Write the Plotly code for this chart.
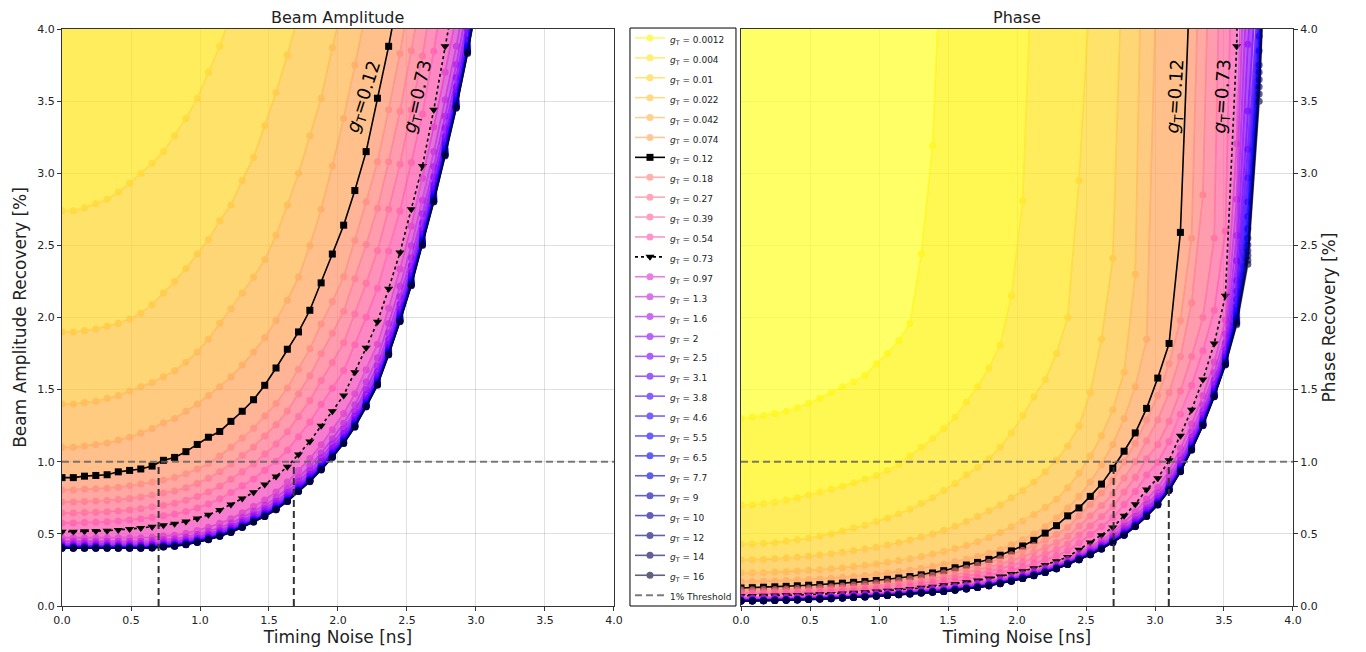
import plotly.graph_objects as go

# ---------------- data ----------------
TIMING_NOISE_NS = [0.000, 0.082, 0.163, 0.245, 0.327, 0.408, 0.490, 0.571, 0.653, 0.735,
                   0.816, 0.898, 0.980, 1.061, 1.143, 1.224, 1.306, 1.388, 1.469, 1.551,
                   1.633, 1.714, 1.796, 1.878, 1.959, 2.041, 2.122, 2.204, 2.286, 2.367,
                   2.449, 2.531, 2.612, 2.694, 2.776, 2.857, 2.939, 3.020, 3.102, 3.184,
                   3.265, 3.347, 3.429, 3.510, 3.592, 3.673, 3.755, 3.837, 3.918, 4.000]

G_T_LABELS = ["0.0012", "0.004", "0.01", "0.022", "0.042", "0.074", "0.12", "0.18", "0.27",
              "0.39", "0.54", "0.73", "0.97", "1.3", "1.6", "2", "2.5", "3.1", "3.8", "4.6",
              "5.5", "6.5", "7.7", "9", "10", "12", "14", "16"]

# Beam amplitude recovery [%] (left panel); curves above the plotted range are empty
AMP_0p0012 = []
AMP_0p004 = []
AMP_0p01 = [2.74, 2.74, 2.76, 2.79, 2.82, 2.87, 2.93, 3.00, 3.07, 3.15, 3.26, 3.38, 3.52, 3.70, 3.88, 4.10]
AMP_0p022 = [1.90, 1.90, 1.91, 1.92, 1.94, 1.96, 1.99, 2.03, 2.09, 2.17, 2.25, 2.34, 2.44, 2.54, 2.67, 2.78,
             2.95, 3.11, 3.33, 3.56, 3.82, 4.10]
AMP_0p042 = [1.40, 1.40, 1.41, 1.42, 1.44, 1.46, 1.49, 1.52, 1.55, 1.59, 1.63, 1.69, 1.76, 1.85, 1.96, 2.06,
             2.17, 2.28, 2.40, 2.57, 2.78, 3.00, 3.26, 3.52, 3.87, 4.20]
AMP_0p074 = [1.10, 1.10, 1.11, 1.12, 1.13, 1.15, 1.17, 1.20, 1.23, 1.27, 1.30, 1.35, 1.40, 1.46, 1.52, 1.59,
             1.67, 1.76, 1.86, 1.98, 2.12, 2.28, 2.50, 2.75, 3.05, 3.38, 3.75, 4.12]
AMP_0p12 = [0.89, 0.89, 0.90, 0.905, 0.91, 0.93, 0.94, 0.95, 0.97, 1.01, 1.03, 1.07, 1.12, 1.17, 1.21, 1.28,
            1.35, 1.43, 1.53, 1.65, 1.78, 1.90, 2.05, 2.24, 2.44, 2.64, 2.88, 3.15, 3.52, 3.88, 4.30]
AMP_0p18 = [0.805, 0.805, 0.81, 0.813, 0.816, 0.824, 0.834, 0.845, 0.86, 0.874, 0.891, 0.917, 0.949, 0.988,
            1.04, 1.10, 1.165, 1.232, 1.317, 1.404, 1.511, 1.642, 1.783, 1.955, 2.111, 2.283, 2.534, 2.80,
            3.08, 3.44, 3.83, 4.30]
AMP_0p27 = [0.721, 0.721, 0.725, 0.728, 0.731, 0.738, 0.746, 0.756, 0.77, 0.783, 0.798, 0.82, 0.85, 0.885,
            0.931, 0.984, 1.043, 1.103, 1.179, 1.257, 1.352, 1.47, 1.596, 1.75, 1.89, 2.044, 2.268, 2.506,
            2.758, 3.08, 3.43, 3.85, 4.27]
AMP_0p39 = [0.644, 0.644, 0.648, 0.65, 0.653, 0.659, 0.666, 0.675, 0.688, 0.699, 0.713, 0.733, 0.759, 0.79,
            0.831, 0.879, 0.931, 0.985, 1.053, 1.123, 1.208, 1.313, 1.425, 1.563, 1.688, 1.825, 2.025, 2.238,
            2.463, 2.75, 3.063, 3.438, 3.813, 4.30]
AMP_0p54 = [0.576, 0.576, 0.579, 0.581, 0.584, 0.589, 0.596, 0.604, 0.615, 0.625, 0.637, 0.655, 0.679, 0.707,
            0.743, 0.786, 0.833, 0.881, 0.941, 1.004, 1.08, 1.174, 1.275, 1.398, 1.509, 1.632, 1.811, 2.001,
            2.202, 2.46, 2.739, 3.075, 3.41, 3.846, 4.34]
AMP_0p73 = [0.515, 0.515, 0.518, 0.52, 0.522, 0.527, 0.533, 0.54, 0.55, 0.559, 0.57, 0.586, 0.607, 0.632,
            0.665, 0.703, 0.745, 0.788, 0.842, 0.898, 0.966, 1.05, 1.14, 1.25, 1.35, 1.46, 1.62, 1.79, 1.97,
            2.20, 2.45, 2.75, 3.05, 3.44, 3.88, 4.30]
AMP_0p97 = [0.474, 0.474, 0.474, 0.474, 0.474, 0.474, 0.474, 0.474, 0.477, 0.485, 0.491, 0.504, 0.523, 0.546,
            0.573, 0.605, 0.646, 0.69, 0.735, 0.791, 0.859, 0.94, 1.022, 1.118, 1.222, 1.335, 1.471, 1.637,
            1.815, 2.064, 2.336, 2.633, 2.965, 3.321, 3.70, 4.092]
AMP_1p3 = [0.45, 0.45, 0.45, 0.45, 0.45, 0.45, 0.45, 0.45, 0.452, 0.46, 0.466, 0.478, 0.496, 0.518, 0.543,
           0.574, 0.613, 0.655, 0.698, 0.75, 0.815, 0.892, 0.97, 1.061, 1.159, 1.267, 1.395, 1.553, 1.721,
           1.958, 2.216, 2.498, 2.813, 3.15, 3.51, 3.881, 4.309]
AMP_1p6 = [0.435, 0.435, 0.435, 0.435, 0.435, 0.435, 0.435, 0.435, 0.437, 0.445, 0.45, 0.462, 0.48, 0.50,
           0.525, 0.555, 0.593, 0.633, 0.675, 0.726, 0.788, 0.863, 0.938, 1.026, 1.121, 1.225, 1.349, 1.501,
           1.665, 1.893, 2.143, 2.415, 2.72, 3.046, 3.395, 3.754, 4.167]
AMP_2 = [0.425, 0.425, 0.425, 0.425, 0.425, 0.425, 0.425, 0.425, 0.427, 0.434, 0.44, 0.451, 0.468, 0.489,
         0.513, 0.542, 0.579, 0.618, 0.658, 0.708, 0.769, 0.842, 0.915, 1.001, 1.094, 1.196, 1.317, 1.466,
         1.625, 1.848, 2.092, 2.358, 2.655, 2.974, 3.313, 3.664, 4.067]
AMP_2p5 = [0.417, 0.417, 0.417, 0.417, 0.417, 0.417, 0.417, 0.417, 0.419, 0.427, 0.432, 0.443, 0.46, 0.48,
           0.504, 0.532, 0.568, 0.607, 0.647, 0.696, 0.755, 0.827, 0.899, 0.984, 1.074, 1.174, 1.293, 1.439,
           1.596, 1.815, 2.055, 2.315, 2.608, 2.92, 3.254, 3.598, 3.995, 4.433]
AMP_3p1 = [0.413, 0.413, 0.413, 0.413, 0.413, 0.413, 0.413, 0.413, 0.415, 0.422, 0.427, 0.439, 0.455, 0.475,
           0.498, 0.526, 0.562, 0.601, 0.64, 0.688, 0.747, 0.818, 0.89, 0.973, 1.063, 1.162, 1.28, 1.424,
           1.579, 1.796, 2.033, 2.291, 2.58, 2.89, 3.22, 3.56, 3.953, 4.386]
AMP_3p8 = [0.41, 0.41, 0.41, 0.41, 0.41, 0.41, 0.41, 0.41, 0.412, 0.419, 0.424, 0.435, 0.452, 0.471, 0.495,
           0.522, 0.558, 0.596, 0.635, 0.683, 0.741, 0.812, 0.883, 0.966, 1.055, 1.153, 1.27, 1.413, 1.567,
           1.782, 2.017, 2.273, 2.56, 2.867, 3.195, 3.533, 3.922, 4.352]
AMP_4p6 = [0.407, 0.407, 0.407, 0.407, 0.407, 0.407, 0.407, 0.407, 0.409, 0.416, 0.421, 0.432, 0.448, 0.468,
           0.491, 0.519, 0.554, 0.592, 0.631, 0.678, 0.736, 0.806, 0.877, 0.959, 1.048, 1.145, 1.261, 1.403,
           1.556, 1.77, 2.003, 2.258, 2.543, 2.848, 3.173, 3.509, 3.895, 4.322]
AMP_5p5 = [0.405, 0.405, 0.405, 0.405, 0.405, 0.405, 0.405, 0.405, 0.407, 0.414, 0.419, 0.431, 0.447, 0.466,
           0.489, 0.517, 0.552, 0.59, 0.628, 0.676, 0.733, 0.803, 0.873, 0.955, 1.043, 1.141, 1.256, 1.398,
           1.55, 1.763, 1.996, 2.249, 2.533, 2.836, 3.161, 3.495, 3.88, 4.305]
AMP_6p5 = [0.404, 0.404, 0.404, 0.404, 0.404, 0.404, 0.404, 0.404, 0.406, 0.413, 0.418, 0.429, 0.445, 0.465,
           0.488, 0.515, 0.55, 0.588, 0.626, 0.674, 0.731, 0.801, 0.871, 0.952, 1.04, 1.137, 1.252, 1.394,
           1.545, 1.757, 1.99, 2.242, 2.525, 2.828, 3.151, 3.485, 3.868, 4.293]
AMP_7p7 = [0.403, 0.403, 0.403, 0.403, 0.403, 0.403, 0.403, 0.403, 0.405, 0.412, 0.417, 0.428, 0.444, 0.463,
           0.486, 0.514, 0.549, 0.586, 0.624, 0.672, 0.729, 0.799, 0.868, 0.95, 1.037, 1.134, 1.249, 1.39,
           1.541, 1.752, 1.984, 2.236, 2.518, 2.82, 3.142, 3.474, 3.857, 4.28]
AMP_9 = [0.402, 0.402, 0.402, 0.402, 0.402, 0.402, 0.402, 0.402, 0.404, 0.411, 0.416, 0.427, 0.443, 0.462,
         0.485, 0.513, 0.548, 0.585, 0.623, 0.67, 0.728, 0.797, 0.866, 0.948, 1.035, 1.132, 1.246, 1.387,
         1.538, 1.749, 1.98, 2.231, 2.513, 2.814, 3.136, 3.467, 3.849, 4.271]
AMP_10 = [0.402, 0.402, 0.402, 0.402, 0.402, 0.402, 0.402, 0.402, 0.404, 0.411, 0.416, 0.427, 0.443, 0.462,
          0.485, 0.512, 0.547, 0.584, 0.622, 0.67, 0.727, 0.796, 0.865, 0.947, 1.034, 1.13, 1.245, 1.386,
          1.536, 1.747, 1.978, 2.229, 2.51, 2.811, 3.132, 3.464, 3.845, 4.267]
AMP_12 = [0.401, 0.401, 0.401, 0.401, 0.401, 0.401, 0.401, 0.401, 0.403, 0.41, 0.415, 0.426, 0.442, 0.461,
          0.484, 0.511, 0.546, 0.583, 0.621, 0.668, 0.725, 0.795, 0.864, 0.945, 1.032, 1.128, 1.242, 1.383,
          1.533, 1.743, 1.974, 2.224, 2.505, 2.806, 3.126, 3.457, 3.838, 4.259]
AMP_14 = [0.40, 0.40, 0.40, 0.40, 0.40, 0.40, 0.40, 0.40, 0.402, 0.409, 0.414, 0.425, 0.441, 0.46, 0.483,
          0.51, 0.545, 0.582, 0.62, 0.668, 0.725, 0.794, 0.863, 0.944, 1.031, 1.127, 1.241, 1.381, 1.532,
          1.742, 1.972, 2.222, 2.503, 2.803, 3.123, 3.454, 3.834, 4.254]
AMP_16 = [0.40, 0.40, 0.40, 0.40, 0.40, 0.40, 0.40, 0.40, 0.402, 0.409, 0.414, 0.425, 0.441, 0.46, 0.483,
          0.51, 0.545, 0.582, 0.62, 0.667, 0.724, 0.793, 0.862, 0.943, 1.03, 1.126, 1.24, 1.38, 1.53, 1.74,
          1.97, 2.22, 2.5, 2.8, 3.12, 3.45, 3.83, 4.25]

# Phase recovery [%] (right panel)
PH_0p0012 = [1.30, 1.31, 1.32, 1.335, 1.35, 1.375, 1.405, 1.44, 1.48, 1.52, 1.555, 1.60, 1.68, 1.75, 1.84,
             1.96, 2.44, 3.19, 5.0]
PH_0p004 = [0.70, 0.70, 0.71, 0.72, 0.735, 0.75, 0.77, 0.79, 0.81, 0.83, 0.855, 0.88, 0.905, 0.94, 0.98,
            1.04, 1.10, 1.16, 1.23, 1.31, 1.415, 1.52, 1.65, 1.81, 2.15, 2.81, 4.8]
PH_0p01 = [0.43, 0.43, 0.435, 0.44, 0.45, 0.46, 0.47, 0.485, 0.50, 0.52, 0.54, 0.56, 0.585, 0.61, 0.64,
           0.67, 0.71, 0.75, 0.80, 0.85, 0.91, 0.96, 1.02, 1.10, 1.20, 1.32, 1.45, 1.57, 1.75, 2.0, 2.95, 4.3]
PH_0p022 = [0.32, 0.32, 0.323, 0.327, 0.332, 0.338, 0.345, 0.353, 0.362, 0.372, 0.383, 0.395, 0.408, 0.423,
            0.44, 0.458, 0.478, 0.50, 0.525, 0.553, 0.585, 0.62, 0.66, 0.70, 0.75, 0.80, 0.86, 0.93, 1.01,
            1.11, 1.25, 1.48, 1.85, 2.41, 4.9]
PH_0p042 = [0.23, 0.23, 0.232, 0.235, 0.238, 0.242, 0.247, 0.252, 0.258, 0.265, 0.273, 0.282, 0.292, 0.303,
            0.315, 0.328, 0.343, 0.36, 0.378, 0.398, 0.42, 0.445, 0.475, 0.51, 0.55, 0.59, 0.635, 0.685, 0.74,
            0.82, 0.92, 1.04, 1.18, 1.36, 1.62, 2.3, 6.5]
PH_0p074 = [0.17, 0.17, 0.172, 0.174, 0.177, 0.18, 0.184, 0.188, 0.193, 0.199, 0.205, 0.212, 0.22, 0.229,
            0.239, 0.25, 0.262, 0.275, 0.29, 0.306, 0.324, 0.344, 0.366, 0.39, 0.425, 0.46, 0.50, 0.55, 0.61,
            0.68, 0.76, 0.86, 0.98, 1.12, 1.30, 1.52, 1.85, 4.7]
PH_0p12 = [0.125, 0.127, 0.13, 0.133, 0.136, 0.14, 0.144, 0.148, 0.153, 0.158, 0.164, 0.17, 0.177, 0.185,
           0.194, 0.204, 0.216, 0.229, 0.245, 0.265, 0.284, 0.302, 0.323, 0.352, 0.382, 0.416, 0.455, 0.505,
           0.557, 0.625, 0.68, 0.76, 0.845, 0.955, 1.073, 1.20, 1.37, 1.58, 1.82, 2.59, 4.63]
PH_0p18 = [0.112, 0.112, 0.114, 0.115, 0.118, 0.122, 0.125, 0.13, 0.134, 0.139, 0.146, 0.152, 0.16, 0.168,
           0.178, 0.189, 0.202, 0.214, 0.229, 0.245, 0.262, 0.282, 0.304, 0.328, 0.355, 0.386, 0.419, 0.456,
           0.496, 0.544, 0.624, 0.704, 0.784, 0.872, 1.0, 1.128, 1.291, 1.46, 1.68, 1.98, 2.55, 5.5]
PH_0p27 = [0.099, 0.099, 0.101, 0.102, 0.105, 0.108, 0.111, 0.115, 0.119, 0.124, 0.129, 0.135, 0.142, 0.149,
           0.158, 0.168, 0.179, 0.19, 0.203, 0.217, 0.233, 0.25, 0.27, 0.291, 0.315, 0.342, 0.372, 0.405,
           0.44, 0.483, 0.554, 0.625, 0.696, 0.774, 0.888, 1.001, 1.146, 1.29, 1.48, 1.73, 2.1, 2.85, 6.0]
PH_0p39 = [0.089, 0.089, 0.09, 0.091, 0.094, 0.096, 0.099, 0.102, 0.106, 0.11, 0.115, 0.12, 0.127, 0.133,
           0.14, 0.149, 0.159, 0.17, 0.181, 0.194, 0.207, 0.223, 0.24, 0.259, 0.281, 0.305, 0.331, 0.361,
           0.392, 0.43, 0.493, 0.557, 0.62, 0.689, 0.791, 0.892, 1.021, 1.12, 1.28, 1.49, 1.73, 2.0, 2.55, 6.5]
PH_0p54 = [0.079, 0.079, 0.08, 0.081, 0.083, 0.086, 0.088, 0.091, 0.095, 0.098, 0.102, 0.107, 0.113, 0.118,
           0.125, 0.133, 0.142, 0.151, 0.161, 0.172, 0.185, 0.198, 0.214, 0.231, 0.25, 0.271, 0.295, 0.321,
           0.349, 0.383, 0.439, 0.495, 0.551, 0.613, 0.703, 0.793, 0.908, 0.997, 1.14, 1.33, 1.53, 1.77, 2.05,
           2.6, 6.0]
PH_0p73 = [0.07, 0.07, 0.071, 0.072, 0.074, 0.076, 0.078, 0.081, 0.084, 0.087, 0.091, 0.095, 0.10, 0.105,
           0.111, 0.118, 0.126, 0.134, 0.143, 0.153, 0.164, 0.176, 0.19, 0.205, 0.222, 0.241, 0.262, 0.285,
           0.31, 0.34, 0.39, 0.44, 0.49, 0.545, 0.625, 0.705, 0.807, 0.886, 1.01, 1.18, 1.36, 1.57, 1.82,
           2.15, 3.88, 9.0]
PH_0p97 = [0.057, 0.058, 0.059, 0.06, 0.062, 0.064, 0.066, 0.069, 0.072, 0.076, 0.08, 0.084, 0.089, 0.094,
           0.099, 0.106, 0.113, 0.121, 0.128, 0.138, 0.148, 0.159, 0.173, 0.188, 0.205, 0.223, 0.244, 0.266,
           0.292, 0.322, 0.366, 0.41, 0.457, 0.508, 0.578, 0.651, 0.742, 0.821, 0.937, 1.093, 1.262, 1.458,
           1.691, 1.982, 3.205, 6.68]
PH_1p3 = [0.050, 0.051, 0.052, 0.053, 0.055, 0.057, 0.06, 0.063, 0.066, 0.069, 0.073, 0.077, 0.082, 0.087,
          0.093, 0.099, 0.106, 0.113, 0.119, 0.129, 0.139, 0.15, 0.163, 0.178, 0.195, 0.213, 0.233, 0.256,
          0.281, 0.311, 0.352, 0.393, 0.438, 0.487, 0.551, 0.62, 0.704, 0.784, 0.895, 1.043, 1.206, 1.394,
          1.617, 1.886, 2.819, 5.354]
PH_1p6 = [0.046, 0.046, 0.047, 0.049, 0.051, 0.053, 0.056, 0.059, 0.062, 0.065, 0.069, 0.073, 0.078, 0.083,
          0.089, 0.095, 0.102, 0.108, 0.114, 0.124, 0.133, 0.143, 0.156, 0.171, 0.188, 0.206, 0.227, 0.249,
          0.275, 0.305, 0.342, 0.382, 0.425, 0.474, 0.533, 0.6, 0.68, 0.76, 0.867, 1.01, 1.17, 1.352, 1.568,
          1.824, 2.568, 4.492]
PH_2 = [0.042, 0.043, 0.044, 0.046, 0.048, 0.05, 0.053, 0.056, 0.059, 0.062, 0.066, 0.07, 0.075, 0.08,
        0.086, 0.092, 0.098, 0.105, 0.11, 0.12, 0.129, 0.139, 0.152, 0.167, 0.184, 0.202, 0.222, 0.244, 0.27,
        0.3, 0.336, 0.375, 0.417, 0.464, 0.521, 0.586, 0.663, 0.743, 0.848, 0.988, 1.144, 1.324, 1.535, 1.78,
        2.394, 3.895, 5.0]
PH_2p5 = [0.04, 0.041, 0.042, 0.043, 0.045, 0.047, 0.05, 0.053, 0.056, 0.06, 0.064, 0.068, 0.073, 0.078,
          0.083, 0.089, 0.096, 0.102, 0.107, 0.117, 0.125, 0.136, 0.148, 0.163, 0.18, 0.198, 0.218, 0.24,
          0.266, 0.296, 0.331, 0.369, 0.41, 0.457, 0.512, 0.575, 0.65, 0.73, 0.834, 0.97, 1.125, 1.301, 1.509,
          1.747, 2.259, 3.431, 4.6]
PH_3p1 = [0.038, 0.039, 0.04, 0.042, 0.044, 0.046, 0.049, 0.052, 0.055, 0.059, 0.063, 0.067, 0.072, 0.077,
          0.082, 0.088, 0.094, 0.101, 0.105, 0.115, 0.124, 0.134, 0.146, 0.161, 0.178, 0.196, 0.216, 0.238,
          0.264, 0.294, 0.328, 0.365, 0.406, 0.453, 0.506, 0.569, 0.642, 0.722, 0.825, 0.96, 1.114, 1.288,
          1.494, 1.728, 2.182, 3.166, 4.4]
PH_3p8 = [0.037, 0.038, 0.039, 0.041, 0.043, 0.045, 0.048, 0.051, 0.054, 0.058, 0.062, 0.066, 0.071, 0.076,
          0.081, 0.087, 0.093, 0.099, 0.104, 0.114, 0.122, 0.132, 0.145, 0.16, 0.177, 0.195, 0.215, 0.237,
          0.263, 0.293, 0.326, 0.363, 0.404, 0.449, 0.502, 0.564, 0.637, 0.717, 0.819, 0.953, 1.105, 1.279,
          1.483, 1.713, 2.124, 2.967, 4.2]
PH_4p6 = [0.036, 0.037, 0.038, 0.04, 0.042, 0.044, 0.047, 0.05, 0.053, 0.057, 0.061, 0.065, 0.07, 0.075,
          0.08, 0.086, 0.092, 0.098, 0.103, 0.113, 0.121, 0.131, 0.143, 0.158, 0.175, 0.193, 0.213, 0.235,
          0.261, 0.291, 0.325, 0.361, 0.401, 0.447, 0.499, 0.56, 0.632, 0.712, 0.814, 0.946, 1.098, 1.271,
          1.474, 1.701, 2.075, 2.801, 4.05]
PH_5p5 = [0.036, 0.037, 0.038, 0.04, 0.042, 0.044, 0.047, 0.05, 0.053, 0.057, 0.061, 0.065, 0.07, 0.075,
          0.08, 0.086, 0.092, 0.098, 0.102, 0.112, 0.12, 0.13, 0.143, 0.158, 0.175, 0.193, 0.213, 0.235,
          0.261, 0.291, 0.324, 0.359, 0.4, 0.445, 0.497, 0.558, 0.629, 0.709, 0.81, 0.943, 1.094, 1.266,
          1.469, 1.694, 2.047, 2.702, 3.95, 5.8]
PH_6p5 = [0.035, 0.036, 0.037, 0.039, 0.041, 0.043, 0.046, 0.049, 0.052, 0.056, 0.06, 0.064, 0.069, 0.074,
          0.079, 0.085, 0.091, 0.097, 0.102, 0.112, 0.12, 0.13, 0.142, 0.157, 0.174, 0.192, 0.212, 0.234,
          0.26, 0.29, 0.323, 0.358, 0.399, 0.444, 0.495, 0.556, 0.627, 0.707, 0.808, 0.939, 1.09, 1.262,
          1.464, 1.688, 2.021, 2.615, 3.85, 5.7]
PH_7p7 = [0.035, 0.036, 0.037, 0.039, 0.041, 0.043, 0.046, 0.049, 0.052, 0.056, 0.06, 0.064, 0.069, 0.074,
          0.079, 0.085, 0.091, 0.097, 0.101, 0.111, 0.119, 0.129, 0.141, 0.156, 0.173, 0.191, 0.211, 0.233,
          0.259, 0.289, 0.322, 0.357, 0.398, 0.443, 0.494, 0.554, 0.625, 0.705, 0.806, 0.937, 1.088, 1.259,
          1.46, 1.683, 2.002, 2.549, 3.75, 5.65]
PH_9 = [0.035, 0.036, 0.037, 0.039, 0.041, 0.043, 0.046, 0.049, 0.052, 0.056, 0.06, 0.064, 0.069, 0.074,
        0.079, 0.085, 0.091, 0.097, 0.101, 0.111, 0.119, 0.129, 0.141, 0.156, 0.173, 0.191, 0.211, 0.233,
        0.259, 0.289, 0.321, 0.357, 0.397, 0.442, 0.493, 0.553, 0.624, 0.704, 0.804, 0.935, 1.086, 1.256,
        1.457, 1.68, 1.989, 2.503, 3.7, 5.6]
PH_10 = [0.034, 0.035, 0.036, 0.038, 0.04, 0.042, 0.045, 0.048, 0.051, 0.055, 0.059, 0.063, 0.068, 0.073,
         0.078, 0.084, 0.09, 0.097, 0.101, 0.111, 0.119, 0.129, 0.141, 0.156, 0.173, 0.191, 0.211, 0.233,
         0.259, 0.289, 0.321, 0.356, 0.396, 0.441, 0.492, 0.552, 0.623, 0.703, 0.803, 0.933, 1.084, 1.254,
         1.455, 1.677, 1.977, 2.463, 3.65, 5.6]
PH_12 = [0.034, 0.035, 0.036, 0.038, 0.04, 0.042, 0.045, 0.048, 0.051, 0.055, 0.059, 0.063, 0.068, 0.073,
         0.078, 0.084, 0.09, 0.096, 0.10, 0.11, 0.118, 0.128, 0.14, 0.155, 0.172, 0.19, 0.21, 0.232, 0.258,
         0.288, 0.321, 0.356, 0.396, 0.441, 0.491, 0.551, 0.622, 0.702, 0.802, 0.932, 1.083, 1.253, 1.453,
         1.674, 1.967, 2.43, 3.6, 5.55]
PH_14 = [0.034, 0.035, 0.036, 0.038, 0.04, 0.042, 0.045, 0.048, 0.051, 0.055, 0.059, 0.063, 0.068, 0.073,
         0.078, 0.084, 0.09, 0.096, 0.10, 0.11, 0.118, 0.128, 0.14, 0.155, 0.172, 0.19, 0.21, 0.232, 0.258,
         0.288, 0.32, 0.355, 0.395, 0.44, 0.49, 0.551, 0.621, 0.701, 0.801, 0.931, 1.081, 1.251, 1.451,
         1.672, 1.958, 2.397, 3.55, 5.5]
PH_16 = [0.034, 0.035, 0.036, 0.038, 0.04, 0.042, 0.045, 0.048, 0.051, 0.055, 0.059, 0.063, 0.068, 0.073,
         0.078, 0.084, 0.09, 0.096, 0.10, 0.11, 0.118, 0.128, 0.14, 0.155, 0.172, 0.19, 0.21, 0.232, 0.258,
         0.288, 0.32, 0.355, 0.395, 0.44, 0.49, 0.55, 0.62, 0.70, 0.80, 0.93, 1.08, 1.25, 1.45, 1.67, 1.95,
         2.37, 3.5, 5.5]

THRESHOLD = 1.0
AMP_CROSS_X = [0.7, 1.68]      # timing noise where g_T=0.12 / 0.73 reach the threshold
PHASE_CROSS_X = [2.7, 3.1]
LABEL_CURVES = ["0.12", "0.73"]

AMP_CURVES = [AMP_0p0012, AMP_0p004, AMP_0p01, AMP_0p022, AMP_0p042, AMP_0p074, AMP_0p12, AMP_0p18,
              AMP_0p27, AMP_0p39, AMP_0p54, AMP_0p73, AMP_0p97, AMP_1p3, AMP_1p6, AMP_2, AMP_2p5, AMP_3p1,
              AMP_3p8, AMP_4p6, AMP_5p5, AMP_6p5, AMP_7p7, AMP_9, AMP_10, AMP_12, AMP_14, AMP_16]
PH_CURVES = [PH_0p0012, PH_0p004, PH_0p01, PH_0p022, PH_0p042, PH_0p074, PH_0p12, PH_0p18, PH_0p27,
             PH_0p39, PH_0p54, PH_0p73, PH_0p97, PH_1p3, PH_1p6, PH_2, PH_2p5, PH_3p1, PH_3p8, PH_4p6,
             PH_5p5, PH_6p5, PH_7p7, PH_9, PH_10, PH_12, PH_14, PH_16]

# ---------------- style ----------------
COLORS = ["#fff50a", "#ffe51a", "#ffd52a", "#ffc53a", "#ffb54a", "#ffa55a", "#ff946b", "#ff847b",
          "#ff748b", "#ff649b", "#ff54ab", "#f244bb", "#d934cb", "#c024db", "#a714eb", "#8e04fb",
          "#7500ff", "#5c00ff", "#4200ff", "#2900ff", "#1000ff", "#0000f4", "#0000d4", "#0000b3",
          "#000093", "#000073", "#000053", "#000033"]
TOP_COLOR = "#ffff25"
FILL_ALPHA = 0.7
FONT = "DejaVu Sans"
LEG_TXT = '<span style="font-size:9px">%s</span>'


def rgba(hexc, a):
    h = hexc.lstrip("#")
    return "rgba(%d,%d,%d,%.3f)" % (int(h[0:2], 16), int(h[2:4], 16), int(h[4:6], 16), a)


fig = go.Figure()

panels = [(AMP_CURVES, "x", "y", False), (PH_CURVES, "x2", "y2", True)]

# bands between neighbouring curves
for curves, xa, ya, _ in panels:
    prev = None
    for i, y in enumerate(curves):
        if not y:
            continue
        xs = TIMING_NOISE_NS[:len(y)]
        col = TOP_COLOR if i == 0 else COLORS[i - 1]
        if prev is None:
            px = xs + [0.0]
            py = list(y) + [y[-1]]
        else:
            pxs = TIMING_NOISE_NS[:len(prev)]
            px = xs + pxs[::-1]
            py = list(y) + list(prev)[::-1]
        fig.add_trace(go.Scatter(x=px, y=py, mode="lines", fill="toself",
                                 fillcolor=rgba(col, FILL_ALPHA), line=dict(width=0),
                                 hoverinfo="skip", showlegend=False, xaxis=xa, yaxis=ya))
        prev = y

# curves
for curves, xa, ya, legend in panels:
    for i, y in enumerate(curves):
        lab = G_T_LABELS[i]
        name = LEG_TXT % ("<i>g</i><sub>T</sub> = " + lab)
        xs = TIMING_NOISE_NS[:len(y)]
        if lab == "0.12":
            tr = go.Scatter(x=xs, y=y, mode="lines+markers", name=name,
                            line=dict(color="black", width=1.6),
                            marker=dict(symbol="square", size=7, color="black"))
        elif lab == "0.73":
            tr = go.Scatter(x=xs, y=y, mode="lines+markers", name=name,
                            line=dict(color="black", width=1.6, dash="dot"),
                            marker=dict(symbol="triangle-down", size=8, color="black"))
        else:
            tr = go.Scatter(x=xs, y=y, mode="lines+markers", name=name, opacity=0.62,
                            line=dict(color=COLORS[i], width=1.6),
                            marker=dict(symbol="circle", size=7, color=COLORS[i]))
        tr.update(xaxis=xa, yaxis=ya, showlegend=legend, legendrank=i + 1, hoverinfo="skip")
        fig.add_trace(tr)

# threshold lines
for xa, ya, crosses, legend in [("x", "y", AMP_CROSS_X, False), ("x2", "y2", PHASE_CROSS_X, True)]:
    fig.add_trace(go.Scatter(x=[0, 4], y=[THRESHOLD, THRESHOLD], mode="lines",
                             line=dict(color="rgba(100,100,100,0.85)", width=2, dash="7px,4px"),
                             name=LEG_TXT % "1% Threshold", showlegend=legend, legendrank=100,
                             xaxis=xa, yaxis=ya, hoverinfo="skip"))
    for cx in crosses:
        fig.add_trace(go.Scatter(x=[cx, cx], y=[0, THRESHOLD], mode="lines",
                                 line=dict(color="#333333", width=2, dash="7px,4px"),
                                 showlegend=False, xaxis=xa, yaxis=ya, hoverinfo="skip"))

# curve labels
label_pos = [("x", "y", [(2.19, 3.53, -72), (2.58, 3.53, -77)]),
             ("x2", "y2", [(3.15, 3.53, -86), (3.49, 3.53, -86)])]
for xa, ya, pos in label_pos:
    for lab, (lx, ly, ang) in zip(LABEL_CURVES, pos):
        fig.add_annotation(x=lx, y=ly, xref=xa, yref=ya, text="<i>g</i><sub>T</sub>=" + lab,
                           showarrow=False, textangle=ang,
                           font=dict(family=FONT, size=18, color="black"))

axis_common = dict(range=[0, 4], dtick=0.5, tickformat=".1f", showgrid=True,
                   gridcolor="rgba(0,0,0,0.12)", gridwidth=1, showline=True, linecolor="#333",
                   linewidth=1, mirror=True, ticks="outside", ticklen=4, tickcolor="#333",
                   zeroline=False, automargin=False,
                   tickfont=dict(family=FONT, size=11, color="#222"))

# the page adds an 8px body margin, so the figure is drawn 8px smaller than the window
fig.update_layout(
    width=1358, height=644,
    margin=dict(l=54, r=73, t=21, b=46),
    paper_bgcolor="white", plot_bgcolor="white",
    font=dict(family=FONT, color="#222"),
    xaxis=dict(domain=[0, 0.4484], anchor="y",
               title=dict(text="Timing Noise [ns]", font=dict(size=17), standoff=4), **axis_common),
    yaxis=dict(domain=[0, 1], anchor="x",
               title=dict(text="Beam Amplitude Recovery [%]", font=dict(size=17), standoff=6),
               **axis_common),
    xaxis2=dict(domain=[0.5516, 1], anchor="y2",
                title=dict(text="Timing Noise [ns]", font=dict(size=17), standoff=4), **axis_common),
    yaxis2=dict(domain=[0, 1], anchor="x2", side="right",
                title=dict(text="Phase Recovery [%]", font=dict(size=17), standoff=6), **axis_common),
    legend=dict(x=0.4614, y=1.0104, xanchor="left", yanchor="top", bgcolor="rgba(0,0,0,0)",
                borderwidth=0, font=dict(family=FONT, size=13, color="#222"),
                tracegroupgap=0, itemwidth=30, traceorder="normal", maxheight=700),
    shapes=[dict(type="rect", xref="paper", yref="paper", x0=0.4614, x1=0.5475, y0=0.0, y1=1.0017,
                 line=dict(color="black", width=1), fillcolor="rgba(0,0,0,0)", layer="above")],
    annotations=list(fig.layout.annotations) + [
        dict(text="Beam Amplitude", x=0.2242, y=1.0, xref="paper", yref="paper", xanchor="center",
             yanchor="bottom", yshift=0, showarrow=False, font=dict(family=FONT, size=16, color="#222")),
        dict(text="Phase", x=0.7758, y=1.0, xref="paper", yref="paper", xanchor="center",
             yanchor="bottom", yshift=0, showarrow=False, font=dict(family=FONT, size=16, color="#222")),
    ],
)

fig.write_html("out.html")
